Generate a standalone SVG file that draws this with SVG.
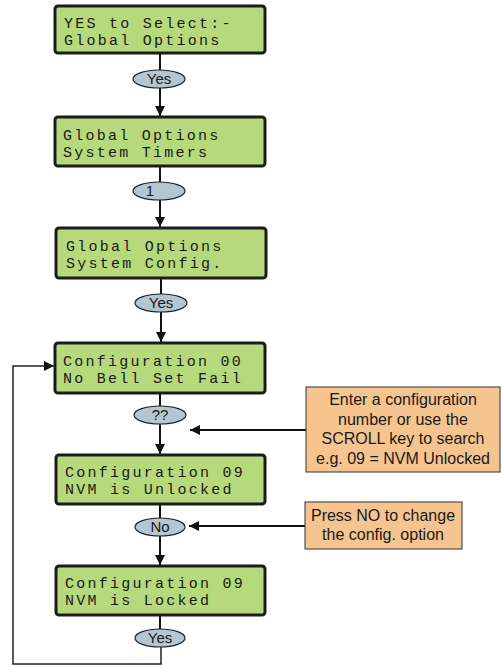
<svg xmlns="http://www.w3.org/2000/svg" width="502" height="666" viewBox="0 0 502 666">
<style>
.lcd{fill:#b6d97c;stroke:#1c1c1c;stroke-width:3}
.lt{font-family:"Liberation Mono","DejaVu Sans Mono",monospace;font-size:15px;letter-spacing:2.25px;fill:#1a1a1a}
.ov{fill:#b3c6d2;stroke:#222;stroke-width:1.2}
.ot{font-family:"Liberation Sans",Arial,sans-serif;font-size:15px;fill:#1a1a1a;text-anchor:middle}
.note{fill:#f6c48f;stroke:#333;stroke-width:1}
.nt{font-family:"Liberation Sans",Arial,sans-serif;font-size:16px;fill:#1a1a1a;text-anchor:middle}
.ln{fill:none;stroke:#111;stroke-width:2}
.lp{fill:none;stroke:#222;stroke-width:1.5}
</style>
<defs>
<marker id="ah" markerWidth="10" markerHeight="10" refX="10" refY="5" orient="auto" markerUnits="userSpaceOnUse" viewBox="0 0 10 10">
<path d="M0,0 L10,5 L0,10 Z" fill="#111"/>
</marker>
</defs>
<g id="connectors">
<path class="ln" d="M160,54 V70"/>
<path class="ln" d="M160,88 V116" marker-end="url(#ah)"/>
<path class="ln" d="M160,167 V182"/>
<path class="ln" d="M160,200 V227" marker-end="url(#ah)"/>
<path class="ln" d="M161,279 V294"/>
<path class="ln" d="M161,312 V342" marker-end="url(#ah)"/>
<path class="ln" d="M160,394 V406"/>
<path class="ln" d="M160,424 V454" marker-end="url(#ah)"/>
<path class="ln" d="M160,505 V518"/>
<path class="ln" d="M160,536 V565" marker-end="url(#ah)"/>
<path class="ln" d="M160,616 V629"/>
<path class="lp" d="M161,647 V664 H13 V366 H54" marker-end="url(#ah)"/>
<path class="ln" d="M306,430 H190" marker-end="url(#ah)"/>
<path class="ln" d="M305,526 H189" marker-end="url(#ah)"/>
</g>
<g id="lcd1">
<rect class="lcd" x="55" y="6" width="210" height="47" rx="3"/>
<text class="lt" x="64" y="28">YES to Select:-</text>
<text class="lt" x="64" y="45">Global Options</text>
</g>
<g id="btn1">
<ellipse class="ov" cx="159" cy="79" rx="26" ry="9"/>
<text class="ot" x="159" y="84">Yes</text>
</g>
<g id="lcd2">
<rect class="lcd" x="55" y="117" width="210" height="49" rx="3"/>
<text class="lt" x="63" y="140">Global Options</text>
<text class="lt" x="63" y="157">System Timers</text>
</g>
<g id="btn2">
<ellipse class="ov" cx="159" cy="191" rx="26" ry="9"/>
<text class="ot" x="150" y="196">1</text>
</g>
<g id="lcd3">
<rect class="lcd" x="56" y="228" width="210" height="50" rx="3"/>
<text class="lt" x="66" y="251">Global Options</text>
<text class="lt" x="66" y="268">System Config.</text>
</g>
<g id="btn3">
<ellipse class="ov" cx="161" cy="303" rx="26" ry="9"/>
<text class="ot" x="161" y="308">Yes</text>
</g>
<g id="lcd4">
<rect class="lcd" x="55" y="343" width="210" height="50" rx="3"/>
<text class="lt" x="63" y="366">Configuration 00</text>
<text class="lt" x="63" y="383">No Bell Set Fail</text>
</g>
<g id="btn4">
<ellipse class="ov" cx="160" cy="415" rx="26" ry="9"/>
<text class="ot" x="160" y="420">??</text>
</g>
<g id="lcd5">
<rect class="lcd" x="56" y="455" width="209" height="49" rx="3"/>
<text class="lt" x="65" y="477">Configuration 09</text>
<text class="lt" x="65" y="494">NVM is Unlocked</text>
</g>
<g id="btn5">
<ellipse class="ov" cx="160" cy="527" rx="25" ry="9"/>
<text class="ot" x="160" y="532">No</text>
</g>
<g id="lcd6">
<rect class="lcd" x="56" y="566" width="209" height="49" rx="3"/>
<text class="lt" x="65" y="588">Configuration 09</text>
<text class="lt" x="65" y="605">NVM is Locked</text>
</g>
<g id="btn6">
<ellipse class="ov" cx="160" cy="638" rx="25" ry="9"/>
<text class="ot" x="160" y="643">Yes</text>
</g>
<g id="note1">
<rect class="note" x="306" y="387" width="194" height="85"/>
<text class="nt" x="403" y="405">Enter a configuration</text>
<text class="nt" x="403" y="425">number or use the</text>
<text class="nt" x="403" y="444">SCROLL key to search</text>
<text class="nt" x="403" y="464">e.g. 09 = NVM Unlocked</text>
</g>
<g id="note2">
<rect class="note" x="305" y="502" width="157" height="47"/>
<text class="nt" x="383" y="521">Press NO to change</text>
<text class="nt" x="383" y="540">the config. option</text>
</g>
</svg>
